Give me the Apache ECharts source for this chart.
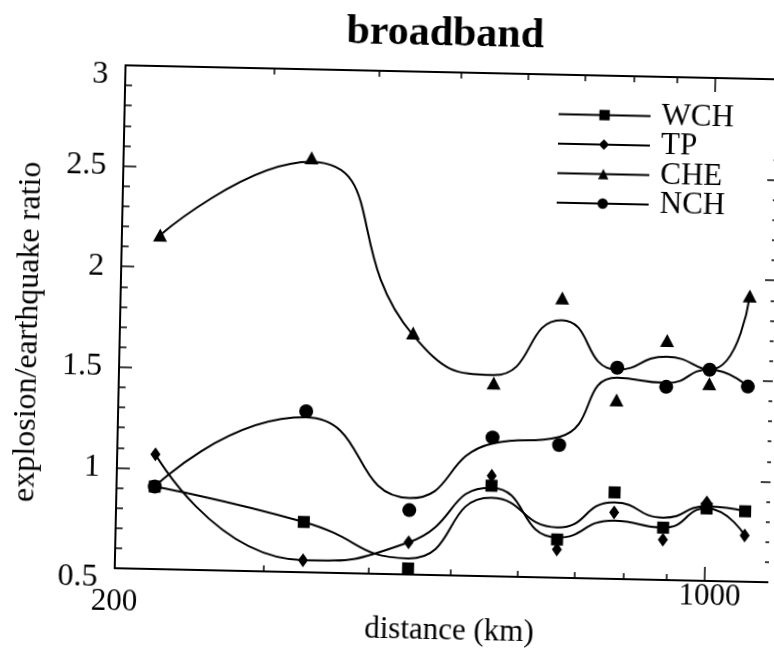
<!DOCTYPE html>
<html>
<head>
<meta charset="utf-8">
<script src="https://cdn.jsdelivr.net/npm/echarts@6/dist/echarts.min.js"></script>
<style>
html,body{margin:0;padding:0;background:#fff;overflow:hidden;width:774px;height:652px;}
#main{width:774px;height:652px;transform:rotate(1.23deg);transform-origin:50% 50%;}
</style>
</head>
<body>
<div id="main"></div>
<script>
// distance (km) of the stations
const distance = [222, 334, 445, 556, 667, 778, 890, 1001, 1112];
// measured ratios (markers)
const wch = [0.91, 0.75, 0.53, 0.95, 0.69, 0.93, 0.76, 0.86, 0.85];
const tp  = [1.07, 0.56, 0.66, 1.00, 0.64, 0.83, 0.70, 0.89, 0.73];
const che = [2.16, 2.56, 1.70, 1.46, 1.89, 1.39, 1.69, 1.48, 1.92];
const nch = [0.91, 1.30, 0.82, 1.19, 1.16, 1.55, 1.46, 1.55, 1.47];
// smoothed curve values at each station
const wchCurve = [0.91, 0.75, 0.58, 0.89, 0.75, 0.88, 0.81, 0.87, 0.85];
const tpCurve  = [1.07, 0.56, 0.66, 0.94, 0.70, 0.79, 0.76, 0.86, 0.73];
const cheCurve = [2.16, 2.54, 1.69, 1.50, 1.78, 1.54, 1.61, 1.55, 1.92];
const nchCurve = [0.91, 1.27, 0.88, 1.16, 1.20, 1.50, 1.48, 1.55, 1.47];
// axis ticks / labels
const xMinorTicks = [300, 400, 500, 600, 700, 800, 900];
const xMajorTicks = [1000];
const xLabels = [200, 1000];
const seriesNames = ['WCH', 'TP', 'CHE', 'NCH'];

const FONT = 'Liberation Serif';
const BLACK = '#000';

const defs = [
  {name: 'WCH', vals: wch, curve: wchCurve, symbol: 'rect', size: 12},
  {name: 'TP', vals: tp, curve: tpCurve, symbol: 'diamond', size: [10, 14]},
  {name: 'CHE', vals: che, curve: cheCurve, symbol: 'triangle', size: [14, 13]},
  {name: 'NCH', vals: nch, curve: nchCurve, symbol: 'circle', size: 14}
];

const series = [];
defs.forEach(d => {
  series.push({
    name: d.name, type: 'line', xAxisIndex: 0, yAxisIndex: 0,
    data: distance.map((x, i) => [x, d.curve[i]]),
    smooth: 0.55, symbol: d.symbol, symbolSize: d.size, showSymbol: false,
    lineStyle: {color: BLACK, width: 2}, itemStyle: {color: BLACK},
    silent: true, z: 2
  });
});
defs.forEach(d => {
  series.push({
    name: d.name, type: 'scatter', xAxisIndex: 0, yAxisIndex: 0,
    data: distance.map((x, i) => [x, d.vals[i]]),
    symbol: d.symbol, symbolSize: d.size,
    itemStyle: {color: BLACK, opacity: 1}, silent: true, z: 3
  });
});

function xAx(pos, ticks, len, extra) {
  return Object.assign({
    type: 'log', logBase: 10, min: 200, max: 1200, position: pos, gridIndex: 0,
    axisLine: {show: true, onZero: false, lineStyle: {color: BLACK, width: 2}},
    axisTick: {show: true, inside: true, length: len, customValues: ticks, lineStyle: {color: BLACK, width: 1.5}},
    axisLabel: {show: false},
    splitLine: {show: false}, minorTick: {show: false}, minorSplitLine: {show: false}
  }, extra || {});
}

const option = {
  animation: false,
  backgroundColor: '#fff',
  title: {
    text: 'broadband', left: 434, top: 7, textAlign: 'center',
    textStyle: {fontFamily: FONT, fontWeight: 'bold', fontSize: 42, color: BLACK}
  },
  legend: {
    data: seriesNames, orient: 'vertical', left: 553, top: 95, padding: 0,
    itemWidth: 92, itemHeight: 13, itemGap: -1.5,
    textStyle: {fontFamily: FONT, fontSize: 31, color: BLACK, lineHeight: 28, padding: [0, 0, 0, 6]},
    selectedMode: false
  },
  grid: {left: 120, top: 71, width: 657, height: 503, containLabel: false, outerBoundsMode: 'none'},
  xAxis: [
    xAx('bottom', xMinorTicks, 6, {
      axisLabel: {
        show: true, customValues: xLabels, margin: 0,
        fontFamily: FONT, fontSize: 31, color: BLACK,
        formatter: v => (Math.round(v) === 200 ? '{low|200}' : '{k|' + Math.round(v) + '}'),
        rich: {
          low: {fontFamily: FONT, fontSize: 31, color: BLACK, padding: [18, 0, 0, 0]},
          k: {fontFamily: FONT, fontSize: 31, color: BLACK, padding: [0, 0, 0, 10]}
        }
      },
      name: 'distance (km)', nameLocation: 'middle', nameGap: 40, nameMoveOverlap: false,
      nameTextStyle: {fontFamily: FONT, fontSize: 31, color: BLACK, padding: [0, 0, 0, 14]}
    }),
    xAx('bottom', xMajorTicks, 14, {axisLine: {show: false}}),
    xAx('top', xMinorTicks, 6),
    xAx('top', xMajorTicks, 14, {axisLine: {show: false}})
  ],
  yAxis: [
    {
      type: 'value', min: 0.5, max: 3, interval: 0.5, position: 'left',
      axisLine: {show: true, onZero: false, lineStyle: {color: BLACK, width: 2}},
      axisTick: {show: true, inside: true, length: 13, lineStyle: {color: BLACK, width: 1.5}},
      minorTick: {show: true, splitNumber: 5, length: 7, lineStyle: {color: BLACK, width: 1.5}},
      splitLine: {show: false},
      axisLabel: {
        margin: 17, fontFamily: FONT, fontSize: 32, color: BLACK,
        formatter: v => ((v === 3 || v === 0.5) ? '{low|' + v + '}' : String(v)),
        rich: {low: {fontFamily: FONT, fontSize: 32, color: BLACK, padding: [20, 0, 0, 0]}}
      },
      name: 'explosion/earthquake ratio', nameLocation: 'middle', nameGap: 75, nameRotate: 90,
      nameMoveOverlap: false,
      nameTextStyle: {fontFamily: FONT, fontSize: 32, color: BLACK, padding: [0, 34, 0, 0]}
    },
    {
      type: 'value', min: 0.5, max: 3, interval: 0.5, position: 'right',
      axisLine: {show: true, onZero: false, lineStyle: {color: BLACK, width: 2}},
      axisTick: {show: true, inside: true, length: 13, lineStyle: {color: BLACK, width: 1.5}},
      minorTick: {show: true, splitNumber: 5, length: 7, lineStyle: {color: BLACK, width: 1.5}},
      splitLine: {show: false}, axisLabel: {show: false}
    }
  ],
  series: series
};

const chart = echarts.init(document.getElementById('main'), null, {renderer: 'canvas'});
chart.setOption(option);
</script>
</body>
</html>
